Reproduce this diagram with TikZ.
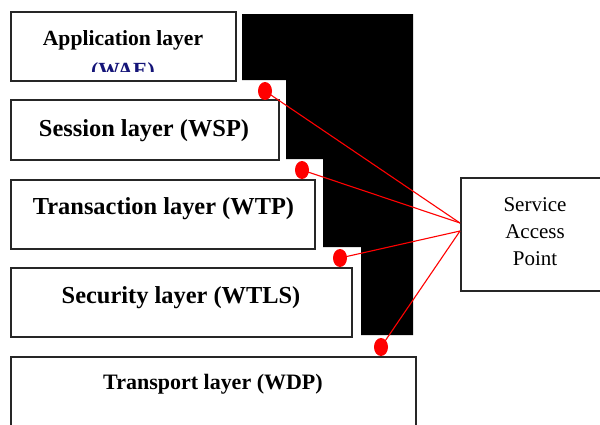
\documentclass[tikz,border=0pt]{standalone}
\usepackage{fontspec}
\setmainfont{Liberation Serif}
\usetikzlibrary{shapes.geometric}
\definecolor{wblue}{RGB}{20,20,120}
\definecolor{wred}{RGB}{255,0,0}
\tikzset{
  layerbox/.style={draw=black!85, line width=1.6pt, fill=white, inner sep=0pt},
  layertext/.style={anchor=base, inner sep=0pt, font=\bfseries\fontsize{24.4}{28}\selectfont},
  sapdot/.style={ellipse, fill=wred, draw=none, minimum width=14pt, minimum height=18pt, inner sep=0pt},
  sapline/.style={draw=wred, line width=1.1pt}
}
\begin{document}
\begin{tikzpicture}[x=1pt,y=-1pt]
\clip (0,0) rectangle (600,424);
\fill[white] (0,0) rectangle (600,424);
% black stepped shape
\fill[black] (242,14) -- (413,14) -- (413,335) -- (361,335) -- (361,247) -- (323,247)
  -- (323,159) -- (286,159) -- (286,80) -- (242,80) -- cycle;
% layer boxes
\node[layerbox, minimum width=225pt, minimum height=69pt] (app) at (123.5,46.5) {};
\node[layerbox, minimum width=268pt, minimum height=60pt] (ses) at (145,130) {};
\node[layerbox, minimum width=304pt, minimum height=69pt] (tra) at (163,214.5) {};
\node[layerbox, minimum width=341pt, minimum height=69pt] (sec) at (181.5,302.5) {};
\node[layerbox, minimum width=405pt, minimum height=80pt] (tsp) at (213.5,397) {};
\node[layerbox, minimum width=150pt, minimum height=113pt] (sap) at (536,234.5) {};
% texts
\node[layertext, font=\bfseries\fontsize{21.6}{24}\selectfont] (tapp) at (123,45) {Application layer};
\begin{scope}
\clip (11,50) rectangle (236,71.5);
\node[layertext, font=\bfseries\fontsize{21.6}{24}\selectfont, text=wblue] (twae) at (123,77) {(WAE)};
\end{scope}
\node[layertext] (tses) at (144,136) {Session layer (WSP)};
\node[layertext] (ttra) at (163.5,214) {Transaction layer (WTP)};
\node[layertext] (tsec) at (181,303) {Security layer (WTLS)};
\node[layertext, font=\bfseries\fontsize{22}{24}\selectfont] (ttsp) at (213,389) {Transport layer (WDP)};
\node[anchor=base, inner sep=0pt, align=center, font=\fontsize{21}{27}\selectfont] (tsap) at (535,265) {Service\\Access\\Point};
% connection points
\coordinate (s1) at (460,223);
\coordinate (s2) at (460,231);
\node[sapdot] (d1) at (265,91) {};
\node[sapdot] (d2) at (302,170) {};
\node[sapdot] (d3) at (340,258) {};
\node[sapdot] (d4) at (381,347) {};
\draw[sapline] (d1.center) -- (s1);
\draw[sapline] (d2.center) -- (s1);
\draw[sapline] (d3.center) -- (s2);
\draw[sapline] (d4.center) -- (s2);
\end{tikzpicture}
\end{document}
